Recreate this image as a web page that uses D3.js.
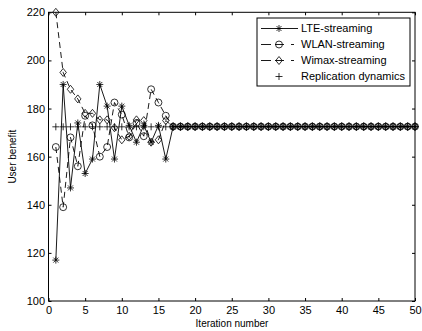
<!DOCTYPE html>
<html>
<head>
<meta charset="utf-8">
<script src="https://cdn.jsdelivr.net/npm/d3@7.9.0/dist/d3.min.js"></script>
<style>
  body { margin: 0; background: #fff; }
  svg { display: block; font-family: "Liberation Sans", Arial, sans-serif; }
</style>
</head>
<body>
<svg id="chart"></svg>
<script>
const width = 422;
const height = 331;

// Values
const iterations = d3.range(1, 51);
const converged = 172.5;
const lteStart = [117, 190, 147, 174, 153, 159, 190, 181, 159, 181, 173, 166, 173, 166, 173, 159];
const wlanStart = [164, 139, 168, 156, 177, 173, 160, 164, 182.5, 177.5, 168, 174, 168.5, 188, 182.5, 177];
const wimaxStart = [220, 195, 188, 184, 178, 178, 175.3, 175.3, 172, 167, 168.5, 175.3, 175, 166, 167, 175];
const replication = iterations.map(() => 172.4);
const xTicks = d3.range(0, 51, 5);
const yTicks = d3.range(100, 221, 20);

const fill = arr => iterations.map((it, i) => i < arr.length ? arr[i] : converged);

const series = [
  {name: "LTE-streaming", values: fill(lteStart), dash: null, marker: "star"},
  {name: "WLAN-streaming", values: fill(wlanStart), dash: "6,4", marker: "circle"},
  {name: "Wimax-streaming", values: fill(wimaxStart), dash: "6,4", marker: "diamond"},
  {name: "Replication dynamics", values: replication, dash: "none", marker: "plus"}
];

const svg = d3.select("#chart").attr("width", width).attr("height", height);

const x = d3.scaleLinear().domain([0, 50]).range([48.5, 415]);
const y = d3.scaleLinear().domain([100, 220]).range([301, 12.3]);

// marker shapes
function markerPath(type) {
  if (type === "circle") return d3.symbol(d3.symbolCircle, 38)();
  if (type === "diamond") return "M0,-4L3.2,0L0,4L-3.2,0Z";
  if (type === "plus") return "M-3.5,0H3.5M0,-3.5V3.5";
  // asterisk
  return "M-3.5,0H3.5M0,-3.5V3.5M-2.5,-2.5L2.5,2.5M-2.5,2.5L2.5,-2.5";
}

// axes, ticks pointing inward
const fmt = d3.format("d");
svg.append("g")
    .attr("transform", `translate(0,${y(100)})`)
    .call(d3.axisBottom(x).tickValues(xTicks).tickSize(-3).tickPadding(5).tickFormat(fmt));
svg.append("g")
    .attr("transform", `translate(0,${y(220)})`)
    .call(d3.axisTop(x).tickValues(xTicks).tickSize(-3).tickFormat(""));
svg.append("g")
    .attr("transform", `translate(${x(0)},0)`)
    .call(d3.axisLeft(y).tickValues(yTicks).tickSize(-3).tickPadding(3.5).tickFormat(fmt));
svg.append("g")
    .attr("transform", `translate(${x(50)},0)`)
    .call(d3.axisRight(y).tickValues(yTicks).tickSize(-3).tickFormat(""));

svg.selectAll(".domain").remove();
svg.selectAll(".tick line").attr("stroke", "#000");
svg.selectAll(".tick text").attr("font-size", 11).attr("fill", "#000")
    .attr("font-family", "'Liberation Sans', Arial, sans-serif");

svg.append("rect")
    .attr("x", x(0)).attr("y", y(220))
    .attr("width", x(50) - x(0)).attr("height", y(100) - y(220))
    .attr("fill", "none").attr("stroke", "#000").attr("stroke-width", 1);

const line = d3.line().x((d, i) => x(iterations[i])).y(d => y(d));

series.forEach(s => {
  const g = svg.append("g");
  if (s.dash !== "none") {
    g.append("path")
        .attr("d", line(s.values))
        .attr("fill", "none")
        .attr("stroke", "#000")
        .attr("stroke-width", 0.9)
        .attr("stroke-dasharray", s.dash);
  }
  g.selectAll("path.mk").data(s.values).join("path")
      .attr("class", "mk")
      .attr("transform", (d, i) => `translate(${x(iterations[i])},${y(d)})`)
      .attr("d", markerPath(s.marker))
      .attr("fill", "none")
      .attr("stroke", "#000")
      .attr("stroke-width", 0.8);
});

// legend
const legend = svg.append("g").attr("transform", "translate(257,18)");
legend.append("rect")
    .attr("width", 153).attr("height", 68)
    .attr("fill", "#fff").attr("stroke", "#000").attr("stroke-width", 1);

series.forEach((s, i) => {
  const row = legend.append("g").attr("transform", `translate(0,${10.5 + i * 16})`);
  if (s.dash !== "none") {
    row.append("line")
        .attr("x1", 4).attr("x2", 41)
        .attr("stroke", "#000").attr("stroke-width", 0.9)
        .attr("stroke-dasharray", s.dash === null ? null : "10,4,9,7,3,20");
  }
  row.append("path")
      .attr("transform", "translate(22,0)")
      .attr("d", markerPath(s.marker))
      .attr("fill", "none").attr("stroke", "#000").attr("stroke-width", 0.8);
  row.append("text")
      .attr("x", 44).attr("dy", "0.35em")
      .attr("font-size", 11)
      .text(s.name);
});

// axis titles
svg.append("text")
    .attr("x", 232).attr("y", 327)
    .attr("text-anchor", "middle")
    .attr("font-size", 10)
    .text("Iteration number");

svg.append("text")
    .attr("transform", `translate(16,${y(160)}) rotate(-90)`)
    .attr("text-anchor", "middle")
    .attr("font-size", 10)
    .text("User benefit");
</script>
</body>
</html>
